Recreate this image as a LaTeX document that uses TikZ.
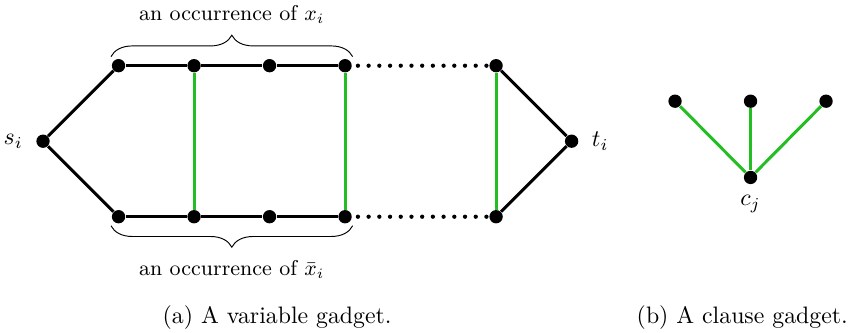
\documentclass[tikz,border=0pt]{standalone}
\usepackage{amsmath, amssymb}
\usepackage{tikz}
\usetikzlibrary{positioning, calc, decorations.pathreplacing}
\definecolor{gadgetgreen}{RGB}{34,190,34}

\begin{document}
\begin{tikzpicture}[x=1.115cm, y=1.115cm,
    vtx/.style={circle, fill=black, inner sep=0pt, minimum size=5.6pt},
    edge/.style={line width=1.25pt},
    gedge/.style={line width=1.25pt, gadgetgreen},
    dotline/.style={line width=1.8pt, line cap=round, dash pattern=on 0pt off 4.5pt},
    brc/.style={decorate, decoration={brace, amplitude=9pt}, thin}]
  \useasboundingbox (-0.57,-2.53) rectangle (10.74,1.87);

  % variable gadget
  \node[vtx, label={[label distance=2pt]left:$s_i$}] (s) at (0,0) {};
  \node[vtx] (u1) at (1,1) {};
  \node[vtx] (u2) at (2,1) {};
  \node[vtx] (u3) at (3,1) {};
  \node[vtx] (u4) at (4,1) {};
  \node[vtx] (u6) at (6,1) {};
  \node[vtx] (l1) at (1,-1) {};
  \node[vtx] (l2) at (2,-1) {};
  \node[vtx] (l3) at (3,-1) {};
  \node[vtx] (l4) at (4,-1) {};
  \node[vtx] (l6) at (6,-1) {};
  \node[vtx, label={[label distance=2pt]right:$t_i$}] (t) at (7,0) {};

  \draw[edge] (u1) -- (s) -- (l1);
  \draw[edge] (u1) -- (u2) -- (u3) -- (u4);
  \draw[edge] (l1) -- (l2) -- (l3) -- (l4);
  \draw[edge] (u6) -- (t) -- (l6);
  \draw[dotline] ($(u4)+(0.17,0)$) -- (u6);
  \draw[dotline] ($(l4)+(0.17,0)$) -- (l6);
  \draw[gedge] (u2) -- (l2);
  \draw[gedge] (u4) -- (l4);
  \draw[gedge] (u6) -- (l6);

  % braces
  \coordinate (bt1) at (0.9,1.12);
  \coordinate (bt2) at (4.1,1.12);
  \coordinate (bb1) at (0.9,-1.12);
  \coordinate (bb2) at (4.1,-1.12);
  \draw[brc] (bt1) -- (bt2);
  \draw[brc, decoration={mirror}] (bb1) -- (bb2);
  \node[font=\small] (occx) at (2.5,1.68) {an occurrence of $x_i$};
  \node[font=\small] (occnx) at (2.5,-1.7) {an occurrence of $\bar{x}_i$};

  % clause gadget
  \node[vtx] (a1) at (8.37,0.53) {};
  \node[vtx] (a2) at (9.37,0.53) {};
  \node[vtx] (a3) at (10.37,0.53) {};
  \node[vtx, label={[label distance=1pt]below:$c_j$}] (c) at (9.37,-0.48) {};
  \draw[gedge] (a1) -- (c);
  \draw[gedge] (a2) -- (c);
  \draw[gedge] (a3) -- (c);

  % captions
  \node (capa) at (3.1,-2.34) {(a) A variable gadget.};
  \node (capb) at (9.26,-2.34) {(b) A clause gadget.};
\end{tikzpicture}
\end{document}
